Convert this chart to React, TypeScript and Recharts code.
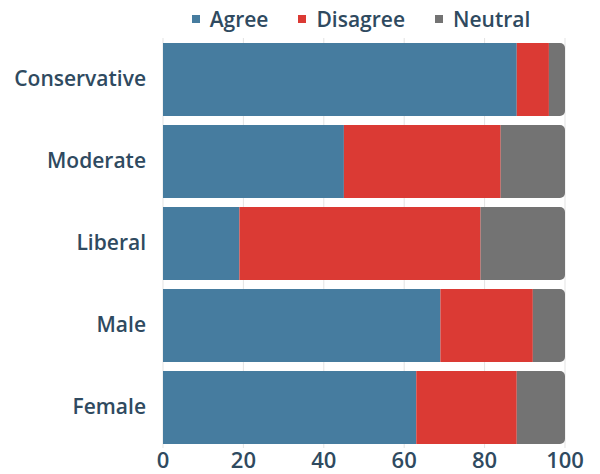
import React from 'react';
import { BarChart, Bar, XAxis, YAxis, CartesianGrid, Legend } from 'recharts';

const categories = ['Conservative', 'Moderate', 'Liberal', 'Male', 'Female'];
const agree = [88, 45, 19, 69, 63];
const disagree = [8, 39, 60, 23, 25];
const neutral = [4, 16, 21, 8, 12];
const xTicks = [0, 20, 40, 60, 80, 100];

const series = [
  { key: 'agree', label: 'Agree', color: '#467c9f' },
  { key: 'disagree', label: 'Disagree', color: '#db3a34' },
  { key: 'neutral', label: 'Neutral', color: '#737373' },
];

const data = categories.map((name, i) => ({
  name,
  agree: agree[i],
  disagree: disagree[i],
  neutral: neutral[i],
}));

const TEXT = '#2f4a60';
const FONT = '"Open Sans", sans-serif';

const renderLegend = () => (
  <div
    style={{
      display: 'flex',
      justifyContent: 'center',
      alignItems: 'center',
      height: 38,
      fontFamily: FONT,
      fontWeight: 600,
      fontSize: 21,
      color: TEXT,
    }}
  >
    {series.map((s, i) => (
      <span
        key={s.key}
        style={{ display: 'flex', alignItems: 'center', marginLeft: i === 0 ? 0 : 30 }}
      >
        <span style={{ width: 8, height: 8, background: s.color, marginRight: 10 }} />
        {s.label}
      </span>
    ))}
  </div>
);

export default function App() {
  return (
    <div style={{ position: 'absolute', left: 0, top: 0, width: 600, height: 474, background: '#fff' }}>
      <BarChart
        width={600}
        height={474}
        data={data}
        layout="vertical"
        margin={{ top: 0, right: 35, bottom: 0, left: 0 }}
        barSize={73}
      >
        <Legend
          verticalAlign="top"
          content={renderLegend}
          wrapperStyle={{ left: 160, width: 402, top: 0 }}
        />
        <CartesianGrid horizontal={false} stroke="#e3e3e3" />
        <XAxis
          type="number"
          domain={[0, 100]}
          ticks={xTicks}
          axisLine={false}
          tickLine={false}
          tickSize={0}
          tickMargin={4}
          height={26}
          interval={0}
          tick={{ fill: TEXT, fontSize: 22, fontFamily: FONT, fontWeight: 600 }}
        />
        <YAxis
          type="category"
          dataKey="name"
          width={163}
          axisLine={false}
          tickLine={false}
          tickMargin={11}
          tick={{ fill: TEXT, fontSize: 21, fontFamily: FONT, fontWeight: 600 }}
        />
        {series.map((s, i) => (
          <Bar
            key={s.key}
            dataKey={s.key}
            stackId="a"
            fill={s.color}
            isAnimationActive={false}
            radius={i === series.length - 1 ? [0, 5, 5, 0] : 0}
          />
        ))}
      </BarChart>
    </div>
  );
}
